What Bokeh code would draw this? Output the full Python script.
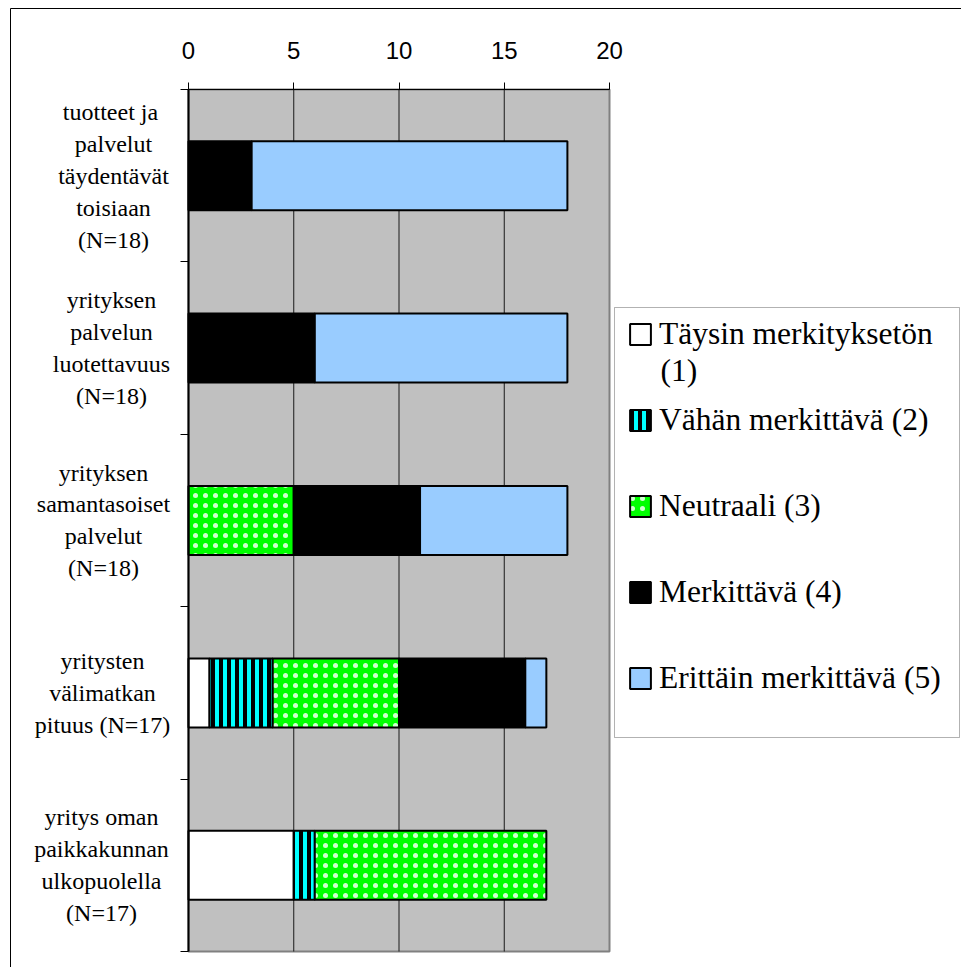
import numpy as np
from bokeh.plotting import figure
from bokeh.models import (ColumnDataSource, Range1d, FixedTicker, Legend, LegendItem,
                          LinearAxis, Label, BoxAnnotation)
from bokeh.core.properties import value
from bokeh.embed import file_html
from bokeh.resources import INLINE

# Survey items, top to bottom
categories = [
    "tuotteet  ja\npalvelut\ntäydentävät\ntoisiaan\n(N=18)",
    "yrityksen\npalvelun\nluotettavuus\n(N=18)",
    "yrityksen\nsamantasoiset\npalvelut\n(N=18)",
    "yritysten\nvälimatkan\npituus (N=17)",
    "yritys oman\npaikkakunnan\nulkopuolella\n(N=17)",
]

# Answer scale (first one wraps onto a second line)
levels = [
    "Täysin merkityksetön",
    "Vähän merkittävä (2)",
    "Neutraali (3)",
    "Merkittävä (4)",
    "Erittäin merkittävä (5)",
]
level1_wrap = "(1)"

# Number of answers per level, one value per item
level1 = [0, 0, 0, 1, 5]
level2 = [0, 0, 0, 3, 1]
level3 = [0, 0, 5, 6, 11]
level4 = [3, 6, 6, 6, 0]
level5 = [15, 12, 7, 1, 0]

x_ticks = [0, 5, 10, 15, 20]

series = [level1, level2, level3, level4, level5]

styles = [
    dict(fill_color="white"),
    dict(fill_color="#00FFFF", hatch_pattern="vertical_line", hatch_color="black",
         hatch_scale=8, hatch_weight=4),
    dict(fill_color="#00FF00", hatch_pattern="dot", hatch_color="#D0FFD0",
         hatch_scale=10, hatch_weight=1.0),
    dict(fill_color="black"),
    dict(fill_color="#99CCFF"),
]

SERIF = "Liberation Serif"
SANS = "Liberation Sans"

n = len(categories)
x_lo, x_hi = x_ticks[0], x_ticks[-1]

# page geometry (pixels)
W, H = 961, 967
BOX_L, BOX_T = 10, 8            # outer chart frame
AREA_L, AREA_R = 188, 609       # plot area left / right
AREA_T, AREA_B = 89, 951        # plot area top / bottom
LABEL_CX = [113, 111, 103, 102, 101]   # centres of the category name blocks
LEG_L, LEG_T, LEG_R, LEG_B = 614, 307, 959, 737   # legend box
LEG_ROW0, LEG_PITCH = 333, 86                    # legend rows
LEG_GLYPH_L, LEG_TEXT_L = 628, 660

px_x = (AREA_R - AREA_L) / (x_hi - x_lo)
px_y = (AREA_B - AREA_T) / n
x_start = x_lo - (AREA_L - BOX_L) / px_x
x_end = x_start + (W - BOX_L) / px_x
y_top = -(AREA_T - BOX_T) / px_y
y_bottom = y_top + (H - BOX_T) / px_y


def sx(px):
    return x_start + (px - BOX_L) / px_x


def sy(py):
    return y_top + (py - BOX_T) / px_y


p = figure(width=W, height=H,
           x_range=Range1d(x_start, x_end), y_range=Range1d(y_bottom, y_top),
           x_axis_location="above",
           toolbar_location=None, output_backend="svg",
           min_border_left=BOX_L, min_border_right=0,
           min_border_top=BOX_T, min_border_bottom=0)

p.background_fill_color = "white"
p.border_fill_color = "white"
p.outline_line_color = None
p.grid.visible = False

# outer frame lines: plain axes on the frame edges
for ax in (p.xaxis[0], p.yaxis[0]):
    ax.ticker = FixedTicker(ticks=[])
    ax.major_tick_out = 0
    ax.major_tick_in = 0
    ax.minor_tick_out = 0
    ax.minor_tick_in = 0
    ax.axis_line_color = "black"
    ax.axis_line_width = 1

# grey plot area
p.quad(left=[x_lo], right=[x_hi], top=[0], bottom=[n],
       fill_color="#C0C0C0", line_color="#808080", line_width=2)

# vertical grid lines
inner = x_ticks[1:-1]
p.segment(x0=inner, x1=inner, y0=[0] * len(inner), y1=[n] * len(inner),
          line_color="#1a1a1a", line_width=1)

# stacked horizontal bars
centers = np.arange(n) + 0.5
vals = np.array(series, dtype=float)
ends = np.cumsum(vals, axis=0)
starts = ends - vals

items = []
for i, lab in enumerate(levels):
    keep = vals[i] > 0
    src = ColumnDataSource(dict(y=centers[keep], left=starts[i][keep], right=ends[i][keep]))
    r = p.hbar(y="y", left="left", right="right", height=0.4, source=src,
               line_color="black", line_width=2, **styles[i])
    items.append(LegendItem(label=lab, renderers=[r]))

# value axis along the top of the plot area
xa = LinearAxis(fixed_location=0, bounds=(x_lo, x_hi), ticker=FixedTicker(ticks=x_ticks))
xa.axis_line_color = "black"
xa.axis_line_width = 1
xa.major_tick_out = 7
xa.major_tick_in = 0
xa.minor_tick_out = 0
xa.minor_tick_in = 0
xa.major_tick_line_color = "black"
xa.major_label_text_font = SANS
xa.major_label_text_font_size = "24px"
xa.major_label_text_color = "black"
xa.major_label_standoff = 24
p.add_layout(xa, "above")

# category axis: tick marks on the category boundaries
ya = LinearAxis(fixed_location=x_lo, bounds=(0, n), ticker=FixedTicker(ticks=list(range(n + 1))))
ya.major_label_overrides = {i: "" for i in range(n + 1)}
ya.axis_line_color = "black"
ya.axis_line_width = 2
ya.major_tick_out = 8
ya.major_tick_in = 0
ya.minor_tick_out = 0
ya.minor_tick_in = 0
ya.major_tick_line_color = "black"
p.add_layout(ya, "left")

# category names
label_x = [x_lo - (AREA_L - cx) / px_x for cx in LABEL_CX]
p.text(x=label_x, y=centers, text=categories,
       text_align="center", text_baseline="middle",
       text_font=value(SERIF), text_font_size="24px",
       text_line_height=1.23, text_color="black")

# legend box
p.add_layout(BoxAnnotation(left=sx(LEG_L), right=sx(LEG_R), top=sy(LEG_T), bottom=sy(LEG_B),
                           fill_color="white", fill_alpha=1,
                           line_color="black", line_width=1))

glyph = 26
row_h = 40
pad = 10
gap = LEG_PITCH - row_h
leg_top = LEG_ROW0 - row_h // 2 - pad - 9
leg_h = 2 * pad + 5 * row_h + 4 * gap
legend = Legend(items=items,
                location=(LEG_GLYPH_L - pad - BOX_L + 9, H - (leg_top + leg_h)),
                label_text_font=SERIF, label_text_font_size="31.5px",
                label_text_color="black", label_standoff=LEG_TEXT_L - LEG_GLYPH_L - glyph,
                glyph_width=glyph, glyph_height=glyph, label_height=row_h,
                padding=pad, spacing=gap, margin=0,
                border_line_color=None, background_fill_alpha=0)
p.add_layout(legend)

p.add_layout(Label(x=sx(LEG_TEXT_L), y=sy(LEG_ROW0 + 37), text=level1_wrap,
                   text_align="left", text_baseline="middle",
                   text_font=SERIF, text_font_size="31.5px", text_color="black"))

open("out.html", "w").write(file_html(p, INLINE))
